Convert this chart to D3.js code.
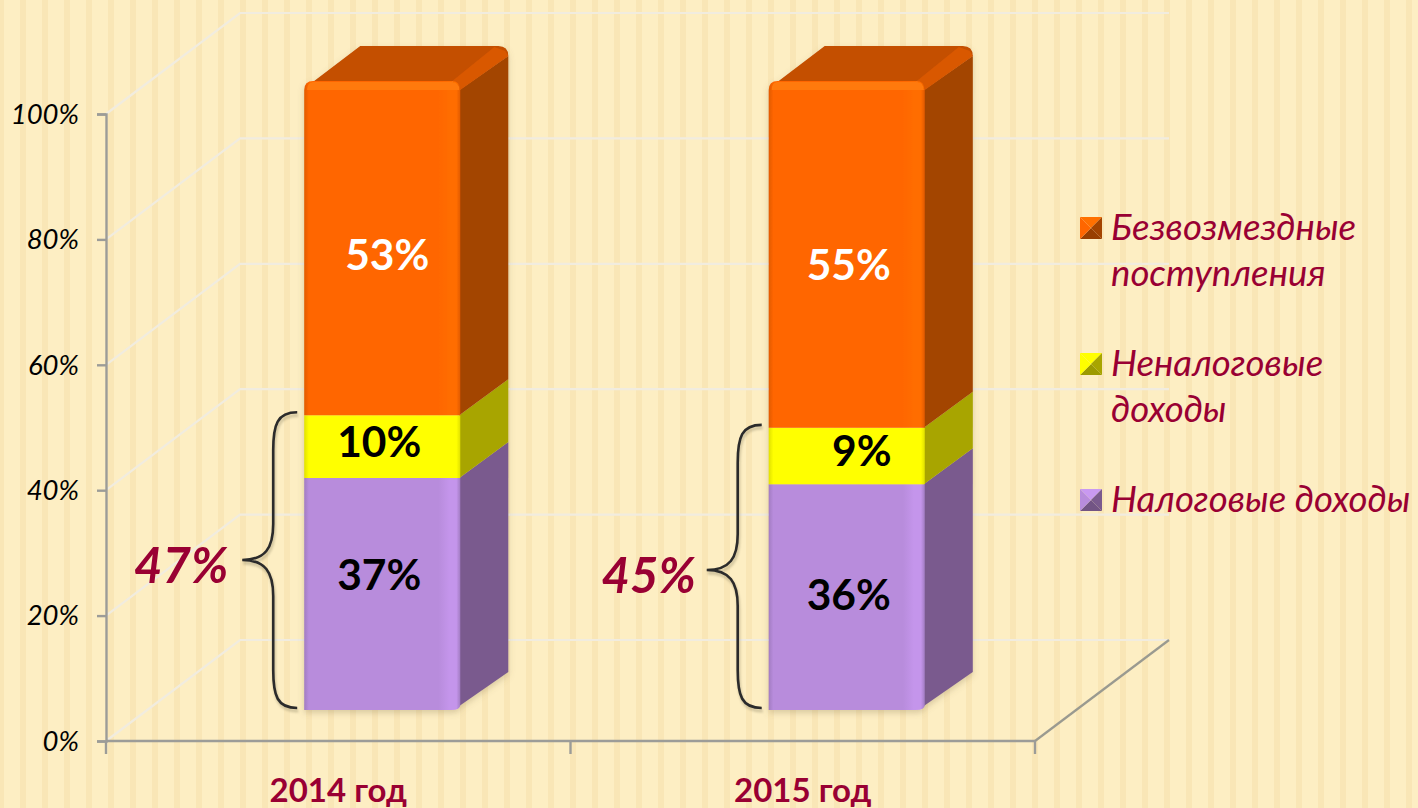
<!DOCTYPE html>
<html><head><meta charset="utf-8">
<script src="https://cdn.jsdelivr.net/npm/d3@7"></script>
<style>html,body{margin:0;padding:0;background:#fdeec3;overflow:hidden}svg{display:block}text{font-family:Lato,"Open Sans",sans-serif}</style>
</head><body><svg id="c" width="1418" height="808"></svg>
<script>
const categories = ["2014 год", "2015 год"];
const seriesNames = ["Налоговые доходы", "Неналоговые доходы", "Безвозмездные поступления"];
const taxValues = [37, 36];
const nonTaxValues = [10, 9];
const grantValues = [53, 55];
const totals = ["47%", "45%"];
const yTicks = [0, 20, 40, 60, 80, 100];
const seriesValues = [taxValues, nonTaxValues, grantValues];
const legendLines = [["Безвозмездные", "поступления"], ["Неналоговые", "доходы"], ["Налоговые доходы"]];

const frontCol = ["#b88cdc", "#ffff00", "#ff6600"];
const sideCol = ["#7a5a8e", "#a8a500", "#a34400"];
const labelCol = ["#000", "#000", "#fff"];
const RED = "#990033";
const W = 1418, H = 808;
const svg = d3.select("#c");
const defs = svg.append("defs");

const y = d3.scaleLinear().domain([0, 100]).range([741, 114]);
const x = d3.scaleBand().domain(categories).range([106, 1035]).paddingInner(0.664).paddingOuter(0.332);
const wall = {dx: 134, dy: -101};       // chart box depth
const barOff = {dx: 44, dy: -31};       // bar front plane
const barDepth = {dx: 48, dy: -36};     // bar depth

// background stripes
const bg = svg.append("g");
bg.append("rect").attr("width", W).attr("height", H).attr("fill", "#fdeec3");
bg.selectAll("rect.s").data(d3.range(-2, W, 22)).join("rect").attr("class", "s")
  .attr("x", d => d).attr("y", 0).attr("width", 6).attr("height", H).attr("fill", "#f9e6b6");

// gradients & shadows
frontCol.forEach((c, i) => {
  const g = defs.append("linearGradient").attr("id", "f" + i);
  const dark = d3.color(c).darker(0.35), lite = d3.color(c).brighter(0.18);
  [[0, dark], [0.03, c], [0.86, c], [0.93, lite], [0.975, lite], [1, dark]].forEach(([o, col]) =>
    g.append("stop").attr("offset", o).attr("stop-color", col));
});
const sh = defs.append("filter").attr("id", "sh").attr("x", "-20%").attr("y", "-10%").attr("width", "140%").attr("height", "120%");
sh.append("feDropShadow").attr("dx", 0).attr("dy", 3).attr("stdDeviation", 3).attr("flood-color", "#7a6a40").attr("flood-opacity", 0.28);
const soft = defs.append("filter").attr("id", "soft").attr("x", "-20%").attr("y", "-5%").attr("width", "140%").attr("height", "110%");
soft.append("feGaussianBlur").attr("stdDeviation", 1);

// walls
const grid = svg.append("g").attr("fill", "none").attr("stroke", "#f1ecdf").attr("stroke-width", 2.2);
yTicks.forEach(t => {
  grid.append("path").attr("d", d3.line()([
    [x.range()[0], y(t)],
    [x.range()[0] + wall.dx, y(t) + wall.dy],
    [x.range()[1] + wall.dx, y(t) + wall.dy]
  ]));
});
svg.append("line").attr("x1", x.range()[1]).attr("y1", y(0))
  .attr("x2", x.range()[1] + wall.dx).attr("y2", y(0) + wall.dy)
  .attr("stroke", "#9a9a90").attr("stroke-width", 2.2);

// axes
const yAxis = d3.axisLeft(y).tickValues(yTicks).tickSize(9).tickPadding(18).tickFormat(d => d + "%");
const gy = svg.append("g").attr("transform", `translate(${x.range()[0]},0)`).call(yAxis);
gy.selectAll("path,line").attr("stroke", "#9c9c98").attr("stroke-width", 2.4);
gy.selectAll("text").attr("font-size", 27.5).attr("font-style", "italic").attr("fill", "#000").attr("dy", "0.34em");

const edges = [x.range()[0], (x.range()[0] + x.range()[1]) / 2, x.range()[1]];
const gx = svg.append("g").attr("stroke", "#9c9c98").attr("stroke-width", 2.4);
gx.append("line").attr("x1", x.range()[0]).attr("x2", x.range()[1]).attr("y1", y(0)).attr("y2", y(0));
gx.selectAll("line.t").data(edges).join("line").attr("class", "t")
  .attr("x1", d => d).attr("x2", d => d).attr("y1", y(0)).attr("y2", y(0) + 13);

svg.append("g").selectAll("text").data(categories).join("text")
  .attr("x", d => x(d) + x.bandwidth() / 2).attr("y", 802)
  .attr("text-anchor", "middle").attr("font-size", 33).attr("font-weight", 700).attr("fill", RED)
  .text(d => d);

// bars
const R = 9;
const stackGen = categories.map((c, ci) => {
  let acc = 0;
  return seriesValues.map((vals, si) => {
    const lo = acc; acc += vals[ci];
    return {c, ci, si, lo, hi: acc, v: vals[ci]};
  });
});
const by = v => y(v) + barOff.dy;
const bars = svg.selectAll("g.bar").data(stackGen).join("g").attr("class", "bar").attr("filter", "url(#sh)");
bars.each(function (segs) {
  const g = d3.select(this);
  const bw = x.bandwidth();
  const L = x(segs[0].c) + barOff.dx, Rt = L + bw;
  const dx = barDepth.dx, dy = barDepth.dy;
  const topY = by(100) - 2;
  // top face
  g.append("path").attr("fill", "#c44f00").attr("d",
    `M ${L + 6} ${topY + 3} L ${L + dx + 8} ${topY + dy + 1} H ${Rt + dx - 10} Q ${Rt + dx} ${topY + dy + 1} ${Rt + dx} ${topY + dy + 11} L ${Rt} ${topY + 8} V ${topY} Z`);
  // side faces
  segs.forEach(s => {
    const t = by(s.hi) + (s.si === 2 ? 7 : 0), b = by(s.lo) - (s.si === 0 ? 4 : 0);
    g.append("path").attr("fill", sideCol[s.si]).attr("d",
      d3.line()([[Rt - 1, t], [Rt + dx, t + dy + (s.si === 2 ? 2 : 0)], [Rt + dx, b + dy + (s.si === 0 ? 2 : 0)], [Rt - 1, b]]) + "Z");
  });
  // bevel between top and side
  g.append("path").attr("fill", "#d95800").attr("d",
    d3.line()([[Rt - 8, topY], [Rt + dx - 14, topY + dy + 2], [Rt + dx - 3, topY + dy + 6], [Rt + dx, topY + dy + 11], [Rt, topY + 9]]) + "Z");
  // front faces
  segs.forEach(s => {
    const t = s.si === 2 ? topY : by(s.hi), b = by(s.lo);
    let d;
    if (s.si === 2) d = `M ${L} ${b} V ${t + R} Q ${L} ${t} ${L + R} ${t} H ${Rt - R} Q ${Rt} ${t} ${Rt} ${t + R} V ${b} Z`;
    else if (s.si === 0) d = `M ${L} ${t} H ${Rt} V ${b - 5} Q ${Rt} ${b} ${Rt - 9} ${b} H ${L} Z`;
    else d = `M ${L} ${t} H ${Rt} V ${b} H ${L} Z`;
    g.append("path").attr("d", d).attr("fill", `url(#f${s.si})`);
  });
  // top bevel on the front
  g.append("path").attr("fill", "#ff7a0a").attr("d",
    `M ${L + 3} ${topY + 9} Q ${L + 3} ${topY + 1} ${L + R} ${topY + 1} H ${Rt - R} Q ${Rt - 1} ${topY + 1} ${Rt - 1} ${topY + 9} L ${Rt - 7} ${topY + 9} H ${L + 7} Z`);
});

// value labels: nudges [category][series] from the segment's centre
const labelNudge = [
  [[-3, -19], [-3, -5], [5, 6]],
  [[2, -2], [15, -5], [2, 9]]
];
const labelData = stackGen.flat();
svg.append("g").selectAll("text").data(labelData).join("text")
  .attr("x", d => x(d.c) + barOff.dx + x.bandwidth() / 2 + labelNudge[d.ci][d.si][0])
  .attr("y", d => (by(d.lo) + by(d.hi)) / 2 + labelNudge[d.ci][d.si][1])
  .attr("dy", "0.36em").attr("text-anchor", "middle")
  .attr("font-size", 42.5).attr("font-weight", 700)
  .attr("fill", d => labelCol[d.si]).text(d => d.v + "%");

// braces
const totalNudge = [0, 3];
const braceG = svg.append("g").selectAll("g").data(categories).join("g");
braceG.each(function (c, i) {
  const L = x(c) + barOff.dx;
  const top = by(taxValues[i] + nonTaxValues[i]) - 3, bot = by(0) - 2;
  const mid = i === 0 ? 560 : 570;
  const e = L - 7, sp = L - 31, tip = L - 62;
  const d = `M ${e} ${top} C ${sp + 4} ${top} ${sp} ${top + 12} ${sp} ${top + 38} V ${mid - 36} C ${sp} ${mid - 12} ${sp - 8} ${mid} ${tip} ${mid} ` +
            `C ${sp - 8} ${mid} ${sp} ${mid + 12} ${sp} ${mid + 36} V ${bot - 38} C ${sp} ${bot - 12} ${sp + 4} ${bot} ${e} ${bot}`;
  d3.select(this).append("path").attr("d", d).attr("fill", "none").attr("stroke", "#8a8060").attr("stroke-width", 3.5).attr("opacity", .35).attr("transform", "translate(1,3)").attr("filter", "url(#soft)");
  d3.select(this).append("path").attr("d", d).attr("fill", "none").attr("stroke", "#2b2b2b").attr("stroke-width", 2.6);
  d3.select(this).append("text").attr("x", tip - 14 + totalNudge[i]).attr("y", mid + 23)
    .attr("text-anchor", "end").attr("font-size", 49).attr("font-weight", 700).attr("font-style", "italic")
    .attr("fill", RED).text(totals[i]);
});

// legend
const legendBase = [[240, 286], [376, 422], [512]];
const legendSeries = [2, 1, 0];
const lg = svg.append("g").selectAll("g").data(legendLines).join("g");
lg.each(function (lines, i) {
  const g = d3.select(this), si = legendSeries[i];
  const S = 22, mx = 1080, my = legendBase[i][0] - 23;
  const c = frontCol[si];
  const cx = mx + S / 2, cy = my + S / 2;
  const tri = (a, b, col) => g.append("path").attr("fill", col)
    .attr("d", d3.line()([a, b, [cx, cy]]) + "Z");
  tri([mx, my], [mx + S, my], d3.color(c).brighter(0.25));
  tri([mx + S, my], [mx + S, my + S], sideCol[si]);
  tri([mx + S, my + S], [mx, my + S], d3.color(sideCol[si]).darker(0.2));
  tri([mx, my + S], [mx, my], c);
  lines.forEach((t, k) => g.append("text").attr("x", 1111).attr("y", legendBase[i][k])
    .attr("font-size", 36.6).attr("font-style", "italic").attr("fill", RED).text(t));
});
</script></body></html>
